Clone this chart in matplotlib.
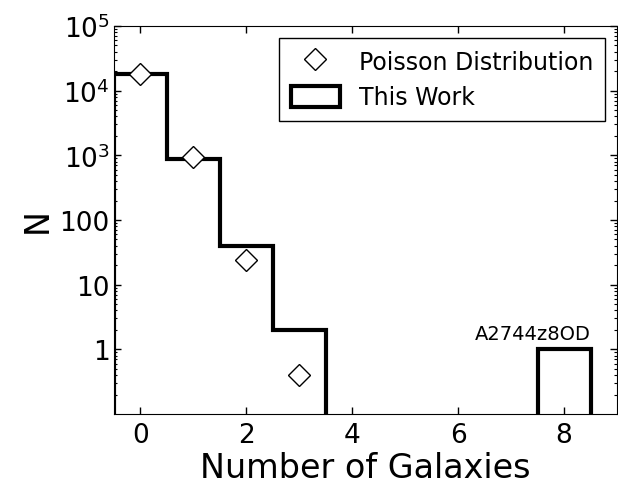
import numpy as np
import matplotlib
matplotlib.use("Agg")
import matplotlib.pyplot as plt
from matplotlib.patches import Patch
from matplotlib.ticker import FixedLocator, FixedFormatter, LogLocator

# --- DATA ---
n_gal = [0, 1, 2, 3, 4, 5, 6, 7, 8, 9]
counts = [17900, 880, 40, 2, 0, 0, 0, 0, 1, 0]      # this work
poisson_x = [0, 1, 2, 3]
poisson_y = [18000, 940, 24, 0.40]
ytick_vals = [1, 10, 100, 1e3, 1e4, 1e5]
ytick_labels = ['1', '10', '100', r'$10^3$', r'$10^4$', r'$10^5$']

fig = plt.figure(figsize=(6.18, 4.85), dpi=100)
ax = fig.add_axes([114 / 618, 1 - 415 / 485, 503 / 618, 388 / 485])

edges = np.arange(len(n_gal) + 1) - 0.5
vals = np.where(np.array(counts) > 0, counts, 1e-4)
ax.stairs(vals, edges, baseline=1e-4, color='k', lw=3)

ax.plot(poisson_x, poisson_y, 'D', mfc='white', mec='k', ms=11, mew=1)

ax.set_yscale('log')
ax.set_xlim(-0.5, 9)
ax.set_ylim(0.1, 1e5)
ax.yaxis.set_major_locator(FixedLocator(ytick_vals))
ax.yaxis.set_major_formatter(FixedFormatter(ytick_labels))
ax.yaxis.set_minor_locator(LogLocator(base=10, subs=np.arange(2, 10)))
ax.set_xticks([0, 2, 4, 6, 8])

ax.tick_params(which='both', direction='in', top=True, right=True, labelsize=19)
ax.tick_params(which='major', length=5, width=1)
ax.tick_params(which='minor', length=2.5, width=0.8)
ax.tick_params(axis='x', pad=6)
ax.tick_params(axis='y', pad=3)

ax.set_xlabel('Number of Galaxies', fontsize=24, labelpad=2)
ax.set_ylabel('N', fontsize=24)

ax.text(8.5, 1.45, 'A2744z8OD', ha='right', va='baseline', fontsize=14)

handles = [
    plt.Line2D([], [], ls='none', marker='D', mfc='white', mec='k', ms=11, mew=1),
    Patch(facecolor='none', edgecolor='k', lw=3),
]
leg = ax.legend(handles, ['Poisson Distribution', 'This Work'], loc='upper right',
                fontsize=17, fancybox=False, framealpha=1, edgecolor='k',
                borderaxespad=0.5, handletextpad=0.8, handlelength=2.1,
                handleheight=1.0, labelspacing=0.5, borderpad=0.5)
leg.get_frame().set_linewidth(1)

fig.savefig('out.png', dpi=100)
